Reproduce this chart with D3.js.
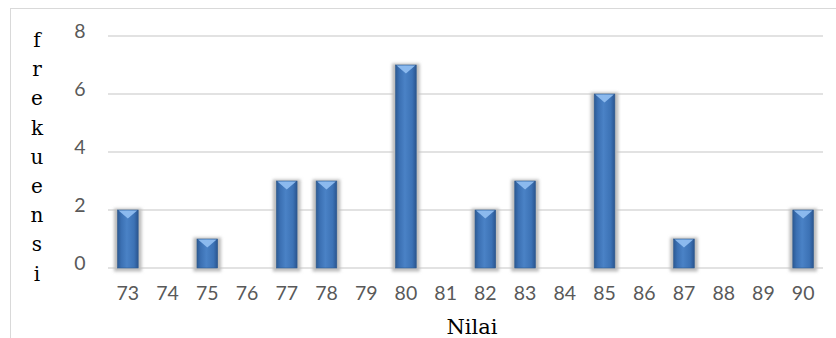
<!DOCTYPE html>
<html><head><meta charset="utf-8">
<script src="https://cdn.jsdelivr.net/npm/d3@7"></script>
<style>html,body{margin:0;padding:0;background:#fff;}svg{display:block;}
.serif{font-family:"DejaVu Serif","Liberation Serif",serif;}
</style>
</head><body>
<script>
const categories = ["73","74","75","76","77","78","79","80","81","82","83","84","85","86","87","88","89","90"];
const values = [2,0,1,0,3,3,0,7,0,2,3,0,6,0,1,0,0,2];
const yTicks = [0,2,4,6,8];
const yTitle = "frekuensi";
const xTitle = "Nilai";

(function(){
const W = 836, H = 338;
const svg = d3.select("body").append("svg").attr("width", W).attr("height", H);

const defs = svg.append("defs");
const g1 = defs.append("linearGradient").attr("id","barGrad").attr("x1","0").attr("x2","1").attr("y1","0").attr("y2","0");
g1.append("stop").attr("offset","0").attr("stop-color","#2c5a94");
g1.append("stop").attr("offset","0.18").attr("stop-color","#3b70b3");
g1.append("stop").attr("offset","0.45").attr("stop-color","#4a82c6");
g1.append("stop").attr("offset","0.8").attr("stop-color","#3c72b5");
g1.append("stop").attr("offset","1").attr("stop-color","#2a5590");
const f = defs.append("filter").attr("id","shadow").attr("x","-50%").attr("y","-20%").attr("width","200%").attr("height","140%");
f.append("feGaussianBlur").attr("stdDeviation","1.8");

// frame
svg.append("rect").attr("x",10.5).attr("y",8.5).attr("width",900).attr("height",400)
  .attr("fill","none").attr("stroke","#d9d9d9").attr("stroke-width",1);

const pl = 108, pr = 823, pt = 36, pb = 268;
const x = d3.scaleBand().domain(categories).range([pl, pr]).paddingInner(0.48).paddingOuter(0.24);
const y = d3.scaleLinear().domain([0, 8]).range([pb, pt]);

// gridlines
svg.append("g").selectAll("line").data(yTicks).join("line")
  .attr("x1", pl).attr("x2", pr)
  .attr("y1", d => y(d)).attr("y2", d => y(d))
  .attr("stroke", "#d9d9d9").attr("stroke-width", 1.5);

// y axis labels
const yAxis = d3.axisLeft(y).tickValues(yTicks).tickSize(0).tickPadding(0);
const ya = svg.append("g").attr("transform", `translate(87,0)`).call(yAxis);
ya.select(".domain").remove();
ya.selectAll("text").attr("font-family","Lato, 'Open Sans', sans-serif").attr("font-size","19.5px")
  .attr("fill","#595959").attr("text-anchor","middle").attr("dx","-7").attr("dy","0.1em");

// x axis labels
const xAxis = d3.axisBottom(x).tickSize(0).tickPadding(0);
const xa = svg.append("g").attr("transform", `translate(0,285)`).call(xAxis);
xa.select(".domain").remove();
xa.selectAll("text").attr("font-family","Lato, 'Open Sans', sans-serif").attr("font-size","19.5px")
  .attr("fill","#595959").attr("dy","0.75em");

// bars
const data = categories.map((c,i)=>({c, v: values[i]})).filter(d => d.v > 0);
const bars = svg.append("g");
bars.selectAll("rect.sh").data(data).join("rect").attr("class","sh")
  .attr("x", d => x(d.c) - 3.5).attr("y", d => y(d.v) - 1.5)
  .attr("width", x.bandwidth() + 7).attr("height", d => y(0) - y(d.v) + 5)
  .attr("fill", "#bdbdbd").attr("filter","url(#shadow)");
bars.selectAll("rect.b").data(data).join("rect").attr("class","b")
  .attr("x", d => x(d.c)).attr("y", d => y(d.v))
  .attr("width", x.bandwidth()).attr("height", d => y(0) - y(d.v))
  .attr("fill", "url(#barGrad)").attr("stroke","#2d5a8f").attr("stroke-width",0.6);
bars.selectAll("path.tri").data(data).join("path").attr("class","tri")
  .attr("d", d => {
    const x0 = x(d.c) + 1, x1 = x(d.c) + x.bandwidth() - 1, yt = y(d.v) + 0.5;
    const xm = (x0 + x1) / 2;
    return `M${x0},${yt}L${x1},${yt}L${xm},${yt + 8}Z`;
  })
  .attr("fill", "#8fbdf0").attr("opacity", 0.95);

// y title, stacked letters
svg.append("g").selectAll("text").data(yTitle.split("")).join("text")
  .attr("class","serif")
  .attr("x", 37).attr("y", (d,i) => 47 + i * 29.2)
  .attr("text-anchor","middle")
  .style("font-size","20px")
  .attr("fill","#000").text(d => d);

// x title
svg.append("text").attr("class","serif").attr("x", 472).attr("y", 334).attr("text-anchor","middle")
  .style("font-size","21px")
  .attr("fill","#000").text(xTitle);
})();
</script>
</body></html>
